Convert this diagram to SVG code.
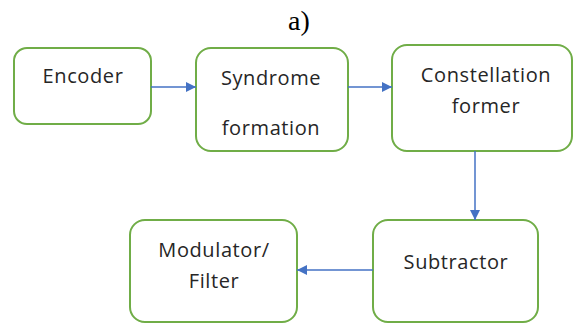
<svg xmlns="http://www.w3.org/2000/svg" width="574" height="324" viewBox="0 0 574 324">
<defs>
<style>
.box{fill:#ffffff;stroke:#70ad47;stroke-width:2}
.lbl{font-family:"Open Sans","DejaVu Sans",sans-serif;font-size:20px;letter-spacing:0.6px;fill:#262626;text-anchor:middle}
.cap{font-family:"Liberation Serif","Times New Roman",serif;font-size:28px;fill:#000;text-anchor:middle}
.conn{stroke:#4472c4;stroke-width:1.5;fill:none;marker-end:url(#ah)}
</style>
<marker id="ah" viewBox="0 0 10 10" refX="10" refY="5" markerWidth="10" markerHeight="10" markerUnits="userSpaceOnUse" orient="auto">
<path d="M0,0 L10,5 L0,10 z" fill="#4472c4"/>
</marker>
</defs>
<rect width="574" height="324" fill="#ffffff"/>
<text class="cap" x="299" y="30">a)</text>
<g id="encoder">
<rect class="box" x="14" y="48" width="137" height="76" rx="13"/>
<text class="lbl" x="83" y="83">Encoder</text>
</g>
<g id="syndrome">
<rect class="box" x="196" y="48" width="152" height="103" rx="15"/>
<text class="lbl" x="271" y="85">Syndrome</text>
<text class="lbl" x="271" y="135">formation</text>
</g>
<g id="constellation">
<rect class="box" x="392" y="45" width="180" height="106" rx="15"/>
<text class="lbl" x="486" y="82">Constellation</text>
<text class="lbl" x="486" y="113">former</text>
</g>
<g id="subtractor">
<rect class="box" x="373" y="220" width="165" height="102" rx="15"/>
<text class="lbl" x="456" y="269">Subtractor</text>
</g>
<g id="modulator">
<rect class="box" x="130" y="220" width="167" height="102" rx="15"/>
<text class="lbl" x="214" y="257">Modulator/</text>
<text class="lbl" x="214" y="288">Filter</text>
</g>
<g id="connectors">
<line class="conn" x1="151" y1="87" x2="196" y2="87"/>
<line class="conn" x1="348" y1="87" x2="392" y2="87"/>
<line class="conn" x1="475" y1="151" x2="475" y2="220"/>
<line class="conn" x1="373" y1="270" x2="297" y2="270"/>
</g>
</svg>
